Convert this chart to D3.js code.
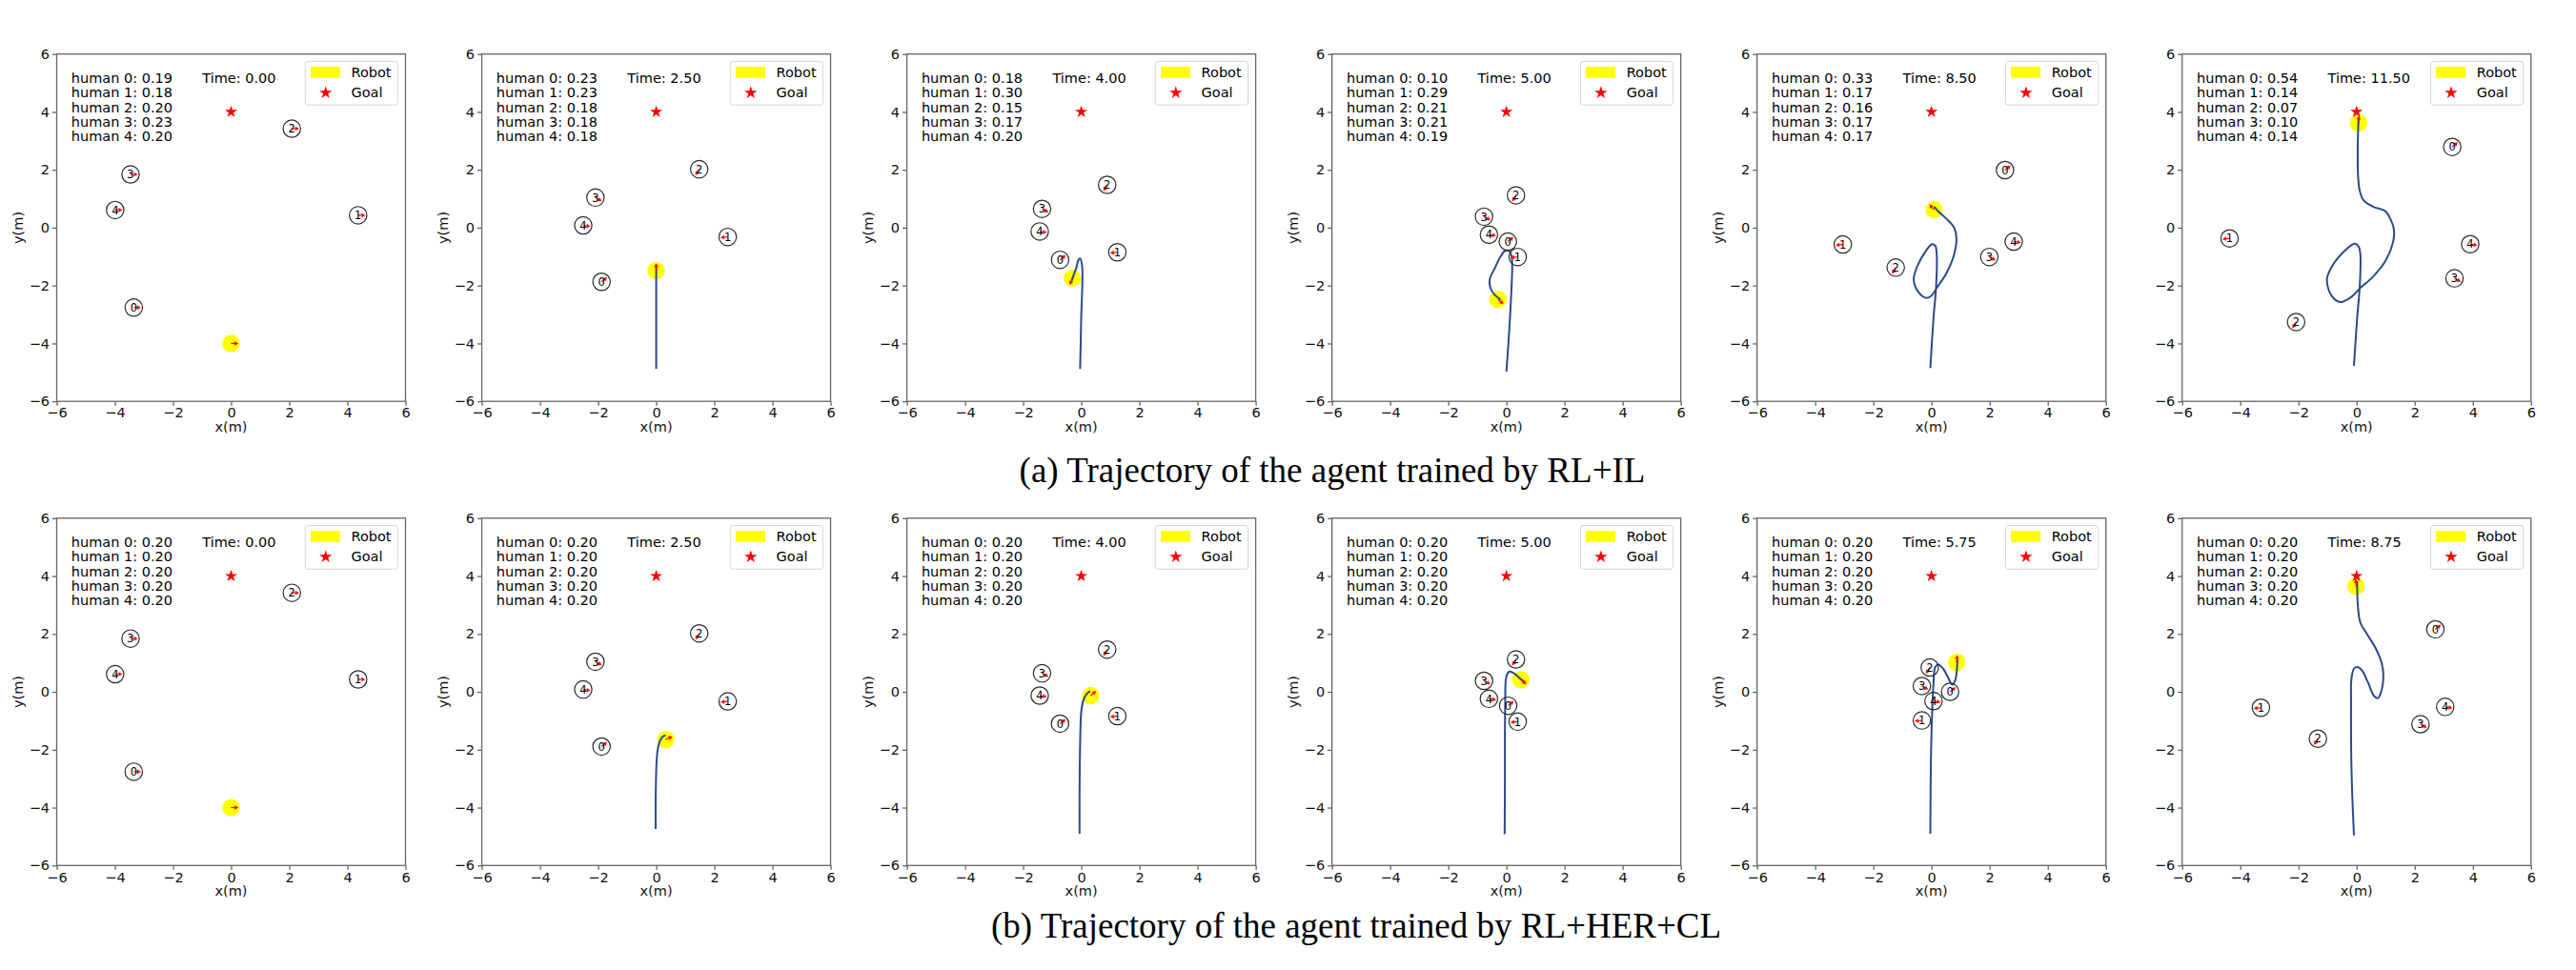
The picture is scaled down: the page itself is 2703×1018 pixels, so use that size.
<!DOCTYPE html>
<html>
<head>
<meta charset="utf-8">
<script src="https://cdn.jsdelivr.net/npm/d3@7"></script>
<style>
  body { margin: 0; background: #fff; }
  text { font-family: "DejaVu Sans", sans-serif; }
</style>
</head>
<body>
<svg id="fig" width="2703" height="1018"></svg>
<script>
// axis ticks (same on x and y)
const ticks = [-6, -4, -2, 0, 2, 4, 6]
const humanIds = [0, 1, 2, 3, 4]
const goal = [0, 4]

// time stamps of the six snapshots
const timesIL = ['0.00', '2.50', '4.00', '5.00', '8.50', '11.50']
const timesHER = ['0.00', '2.50', '4.00', '5.00', '5.75', '8.75']

// attention weight printed for each human
const attnIL = [
  [0.19, 0.18, 0.20, 0.23, 0.20],
  [0.23, 0.23, 0.18, 0.18, 0.18],
  [0.18, 0.30, 0.15, 0.17, 0.20],
  [0.10, 0.29, 0.21, 0.21, 0.19],
  [0.33, 0.17, 0.16, 0.17, 0.17],
  [0.54, 0.14, 0.07, 0.10, 0.14]
]
const attnHER = [
  [0.20, 0.20, 0.20, 0.20, 0.20],
  [0.20, 0.20, 0.20, 0.20, 0.20],
  [0.20, 0.20, 0.20, 0.20, 0.20],
  [0.20, 0.20, 0.20, 0.20, 0.20],
  [0.20, 0.20, 0.20, 0.20, 0.20],
  [0.20, 0.20, 0.20, 0.20, 0.20]
]

// human positions (m), humans 0..4
const humansIL = [
  [[-3.35, -2.76], [4.37, 0.43], [2.09, 3.42], [-3.46, 1.84], [-3.99, 0.61]],
  [[-1.88, -1.87], [2.46, -0.32], [1.48, 2.02], [-2.09, 1.04], [-2.51, 0.08]],
  [[-0.73, -1.11], [1.24, -0.85], [0.89, 1.48], [-1.35, 0.65], [-1.43, -0.13]],
  [[0.05, -0.48], [0.39, -1.01], [0.33, 1.12], [-0.77, 0.38], [-0.60, -0.24]],
  [[2.53, 1.99], [-3.05, -0.58], [-1.23, -1.38], [1.99, -1.01], [2.83, -0.48]],
  [[3.29, 2.79], [-4.37, -0.37], [-2.08, -3.26], [3.37, -1.75], [3.91, -0.57]]
]
const humansHER = [
  [[-3.35, -2.76], [4.37, 0.43], [2.09, 3.42], [-3.46, 1.84], [-3.99, 0.61]],
  [[-1.88, -1.89], [2.46, -0.33], [1.48, 2.02], [-2.09, 1.04], [-2.51, 0.08]],
  [[-0.73, -1.10], [1.24, -0.84], [0.89, 1.46], [-1.35, 0.64], [-1.43, -0.13]],
  [[0.06, -0.48], [0.39, -1.03], [0.33, 1.12], [-0.77, 0.38], [-0.60, -0.24]],
  [[0.64, 0.00], [-0.33, -0.99], [-0.06, 0.84], [-0.33, 0.20], [0.07, -0.32]],
  [[2.71, 2.16], [-3.29, -0.55], [-1.33, -1.62], [2.20, -1.12], [3.05, -0.52]]
]

// walking direction of each human (degrees)
const walkDir = [39.5, 185.6, 238.6, -28, -8.7]

// robot position
const robotIL = [[0, -4], [0, -1.48], [-0.31, -1.74], [-0.29, -2.48], [0.09, 0.62], [0.07, 3.62]]
const robotHER = [[0, -4], [0.33, -1.65], [0.32, -0.13], [0.50, 0.42], [0.87, 1.02], [-0.02, 3.65]]

// robot trajectory so far
const trajIL = [
  [],
  [[0, -4.88], [0, -3.5], [0, -2.5], [0, -1.35]],
  [[-0.04, -4.88], [-0.02, -4.0], [0.0, -3.0], [0.03, -2.2], [0.04, -1.6], [0.02, -1.25], [-0.04, -1.06],
   [-0.1, -1.12], [-0.17, -1.38], [-0.25, -1.6], [-0.33, -1.84]],
  [[0, -4.97], [0.07, -4.0], [0.13, -3.0], [0.18, -2.0], [0.2, -1.3], [0.17, -0.95], [0.08, -0.8],
   [-0.05, -0.8], [-0.2, -1.0], [-0.4, -1.4], [-0.57, -1.78], [-0.56, -2.05], [-0.42, -2.3], [-0.2, -2.48]],
  [[-0.04, -4.85], [0.07, -3.12], [0.16, -2.02], [0.18, -0.92], [0.13, -0.62], [0.02, -0.57], [-0.2, -0.81],
   [-0.5, -1.36], [-0.61, -1.8], [-0.44, -2.24], [-0.17, -2.43], [0.0, -2.35], [0.18, -2.08], [0.51, -1.58],
   [0.78, -0.92], [0.86, -0.37], [0.78, 0.0], [0.52, 0.3], [0.24, 0.56], [0.09, 0.73]],
  [[-0.09, -4.77], [0.02, -3.12], [0.11, -2.02], [0.13, -0.92], [0.07, -0.65], [-0.07, -0.55], [-0.42, -0.81],
   [-0.86, -1.36], [-1.02, -1.8], [-0.86, -2.35], [-0.55, -2.57], [-0.2, -2.41], [0.13, -2.08], [0.56, -1.7],
   [1.0, -1.14], [1.26, -0.48], [1.28, -0.04], [1.17, 0.29], [0.99, 0.57], [0.56, 0.73], [0.24, 0.95],
   [0.11, 1.27], [0.05, 1.82], [0.04, 2.59], [0.05, 3.25], [0.07, 3.8]]
]
const trajHER = [
  [],
  [[-0.02, -4.74], [-0.02, -4.0], [-0.01, -3.2], [0.01, -2.5], [0.05, -2.0], [0.12, -1.72], [0.22, -1.55], [0.33, -1.5]],
  [[-0.06, -4.9], [-0.06, -3.53], [-0.05, -2.43], [-0.03, -1.33], [0.0, -0.68], [0.07, -0.3], [0.18, -0.08], [0.3, 0.02]],
  [[-0.06, -4.92], [-0.05, -3.0], [-0.05, -1.33], [-0.04, -0.24], [-0.02, 0.42], [0.04, 0.64], [0.11, 0.7],
   [0.26, 0.64], [0.48, 0.45], [0.6, 0.35]],
  [[-0.04, -4.9], [-0.02, -2.43], [0.02, -0.79], [0.07, 0.3], [0.13, 0.86], [0.24, 0.94], [0.4, 0.8],
   [0.56, 0.52], [0.71, 0.25], [0.82, 0.41], [0.88, 0.85], [0.89, 1.12]],
  [[-0.09, -4.96], [-0.15, -3.53], [-0.18, -2.43], [-0.19, -1.34], [-0.19, -0.24], [-0.18, 0.42], [-0.09, 0.8],
   [0.02, 0.86], [0.18, 0.75], [0.4, 0.31], [0.59, -0.13], [0.73, -0.22], [0.84, -0.02], [0.92, 0.53],
   [0.87, 0.97], [0.68, 1.46], [0.35, 2.01], [0.13, 2.39], [0.04, 3.05], [0.02, 3.82]]
]

const captions = ['(a) Trajectory of the agent trained by RL+IL', '(b) Trajectory of the agent trained by RL+HER+CL']

// layout
const panelW = 366
const panelH = 364.5
const rowTops = [56.7, 543.8]
const captionY = [506, 984]
const captionX = [1398, 1423]
const fs = 14.5
const agentRadius = 0.3

const svg = d3.select('#fig')

function starPath(R) {
    let pts = []
    for (let k = 0; k < 10; k++) {
        let a = (-90 + k * 36) * Math.PI / 180
        let rad = k % 2 ? R * 0.382 : R
        pts.push([rad * Math.cos(a), rad * Math.sin(a)])
    }
    return 'M' + pts.map(p => p.join(',')).join('L') + 'Z'
}

// small red heading arrow
function drawArrow(g, cx, cy, deg, len) {
    let a = deg * Math.PI / 180
    let ux = Math.cos(a), uy = -Math.sin(a)
    let tip = [cx + ux * len, cy + uy * len]
    let base = [tip[0] - ux * 4, tip[1] - uy * 4]
    g.append('line')
        .attr('x1', cx).attr('y1', cy)
        .attr('x2', base[0]).attr('y2', base[1])
        .attr('stroke', '#ff0000').attr('stroke-width', 1.2)
    g.append('path')
        .attr('d', `M${tip[0]},${tip[1]}L${base[0] - uy * 2.3},${base[1] + ux * 2.3}L${base[0] + uy * 2.3},${base[1] - ux * 2.3}Z`)
        .attr('fill', '#ff0000')
}

function drawPanel(left, top, time, attn, humans, robot, traj, showYLabel) {
    const g = svg.append('g').attr('transform', `translate(${left},${top})`)
    const x = d3.scaleLinear().domain([-6, 6]).range([0, panelW])
    const y = d3.scaleLinear().domain([-6, 6]).range([panelH, 0])
    const px = x(agentRadius) - x(0)

    // axes
    const xAxis = g.append('g')
        .attr('transform', `translate(0,${panelH})`)
        .call(d3.axisBottom(x).tickValues(ticks).tickSize(4.5).tickPadding(2.5).tickSizeOuter(0))
    const yAxis = g.append('g')
        .call(d3.axisLeft(y).tickValues(ticks).tickSize(4.5).tickPadding(3).tickSizeOuter(0))
    for (let ax of [xAxis, yAxis]) {
        ax.select('.domain').remove()
        ax.selectAll('line').attr('stroke', '#555').attr('stroke-width', 1.2)
        ax.selectAll('text').style('font-size', fs + 'px').attr('fill', '#111')
            .style('font-family', '"DejaVu Sans", sans-serif')
    }
    g.append('rect')
        .attr('width', panelW).attr('height', panelH)
        .attr('fill', 'none').attr('stroke', '#666').attr('stroke-width', 1.3)

    g.append('text')
        .attr('x', panelW / 2).attr('y', panelH + 32)
        .attr('text-anchor', 'middle').style('font-size', fs + 'px').attr('fill', '#111')
        .text('x(m)')
    if (showYLabel) {
        g.append('text')
            .attr('transform', `translate(-35.5,${panelH / 2}) rotate(-90)`)
            .attr('text-anchor', 'middle').style('font-size', fs + 'px').attr('fill', '#111')
            .text('y(m)')
    }

    // robot
    g.append('circle')
        .attr('cx', x(robot[0])).attr('cy', y(robot[1])).attr('r', px)
        .attr('fill', '#ffff00')

    // trajectory
    if (traj.length > 1) {
        const line = d3.line().x(d => x(d[0])).y(d => y(d[1])).curve(d3.curveCatmullRom.alpha(0.5))
        g.append('path')
            .attr('d', line(traj))
            .attr('fill', 'none').attr('stroke', '#2b4a8b').attr('stroke-width', 2)
    }

    // goal
    g.append('path')
        .attr('transform', `translate(${x(goal[0])},${y(goal[1])})`)
        .attr('d', starPath(6.8)).attr('fill', '#ff0000')

    // robot heading
    let robotDeg = 0
    if (traj.length > 1) {
        let a = traj[traj.length - 2], b = traj[traj.length - 1]
        robotDeg = Math.atan2(b[1] - a[1], b[0] - a[0]) * 180 / Math.PI
    }
    drawArrow(g, x(robot[0]), y(robot[1]), robotDeg, 7.6)

    // humans
    humans.forEach((h, i) => {
        g.append('circle')
            .attr('cx', x(h[0])).attr('cy', y(h[1])).attr('r', px)
            .attr('fill', 'none').attr('stroke', '#2a2a2a').attr('stroke-width', 1.2)
        drawArrow(g, x(h[0]), y(h[1]), time == '0.00' ? 0 : walkDir[i], 7.6)
        g.append('text')
            .attr('x', x(h[0])).attr('y', y(h[1]) + 4.2)
            .attr('text-anchor', 'middle').style('font-size', '11.5px').attr('fill', '#000')
            .text(humanIds[i])
    })

    // attention text
    humanIds.forEach((id, i) => {
        g.append('text')
            .attr('x', 15.3).attr('y', 30.4 + i * 15.25)
            .style('font-size', fs + 'px').attr('fill', '#000')
            .text(`human ${id}: ${attn[i].toFixed(2)}`)
    })
    g.append('text')
        .attr('x', 152.8).attr('y', 30.4)
        .style('font-size', fs + 'px').attr('fill', '#000')
        .text(`Time: ${time}`)

    // legend
    const lg = g.append('g')
    lg.append('rect')
        .attr('x', 260.7).attr('y', 7.7).attr('width', 97.3).attr('height', 45.8).attr('rx', 3)
        .attr('fill', '#fff').attr('stroke', '#d6d6d6').attr('stroke-width', 1)
    lg.append('rect')
        .attr('x', 266.4).attr('y', 13.4).attr('width', 31).attr('height', 11.6)
        .attr('fill', '#ffff00')
    lg.append('text').attr('x', 309).attr('y', 24.6).style('font-size', fs + 'px').attr('fill', '#000').text('Robot')
    lg.append('path')
        .attr('transform', 'translate(282.2,40.6)')
        .attr('d', starPath(7)).attr('fill', '#ff0000')
    lg.append('text').attr('x', 309).attr('y', 45.3).style('font-size', fs + 'px').attr('fill', '#000').text('Goal')
}

const rows = [
    { times: timesIL, attn: attnIL, humans: humansIL, robot: robotIL, traj: trajIL },
    { times: timesHER, attn: attnHER, humans: humansHER, robot: robotHER, traj: trajHER }
]

rows.forEach((row, r) => {
    for (let i = 0; i < 6; i++) {
        drawPanel(59.5 + i * 446.05, rowTops[r], row.times[i], row.attn[i], row.humans[i],
            row.robot[i], row.traj[i], i < 5)
    }
    svg.append('text')
        .attr('x', captionX[r]).attr('y', captionY[r])
        .attr('text-anchor', 'middle')
        .style('font-family', '"Liberation Serif", "Times New Roman", serif')
        .style('font-size', '37px').attr('fill', '#000')
        .text(captions[r])
})
</script>
</body>
</html>
